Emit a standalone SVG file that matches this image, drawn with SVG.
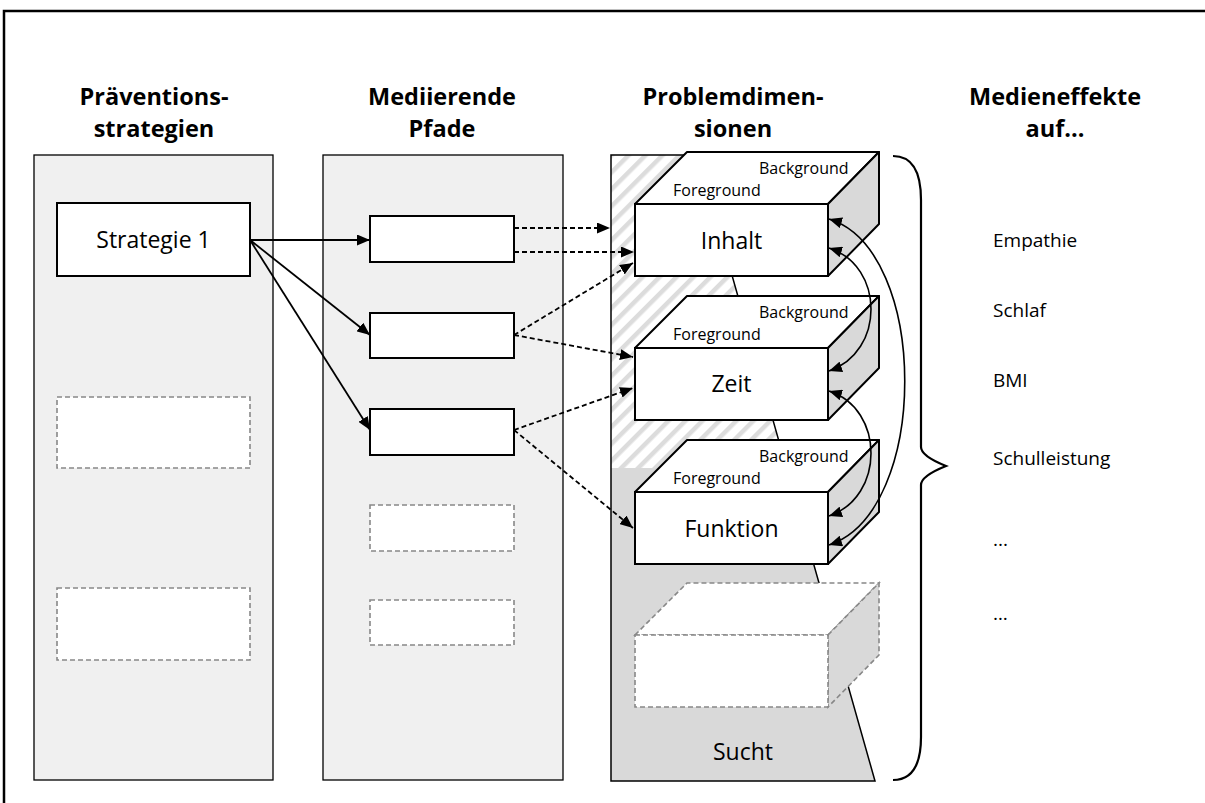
<svg xmlns="http://www.w3.org/2000/svg" width="1205" height="803" viewBox="0 0 1205 803">
<defs>
<style>
.hdr{font-family:"Open Sans",sans-serif;font-weight:700;font-size:23.5px;fill:#000;text-anchor:middle}
.lbl{font-family:"Open Sans",sans-serif;font-size:23px;fill:#000;text-anchor:middle}
.sm{font-family:"Open Sans",sans-serif;font-size:16px;fill:#000}
.eff{font-family:"Open Sans",sans-serif;font-size:19px;fill:#000}
.panel{fill:#f0f0f0;stroke:#000;stroke-width:1.3}
.box{fill:#fff;stroke:#000;stroke-width:2}
.dbox{fill:#fff;stroke:#888;stroke-width:1.6;stroke-dasharray:5 3}
.side{fill:#d9d9d9;stroke:#000;stroke-width:2;stroke-linejoin:round}
.top{fill:#fff;stroke:#000;stroke-width:2;stroke-linejoin:round}
.dside{fill:#d9d9d9;stroke:#888;stroke-width:1.6;stroke-dasharray:5 3}
.dtop{fill:#fff;stroke:#888;stroke-width:1.6;stroke-dasharray:5 3}
.sol{fill:none;stroke:#000;stroke-width:1.8;marker-end:url(#ah)}
.dash{fill:none;stroke:#000;stroke-width:1.8;stroke-dasharray:5 3;marker-end:url(#ah)}
.arc{fill:none;stroke:#000;stroke-width:1.6;marker-start:url(#ahs);marker-end:url(#ah)}
</style>
<marker id="ah" viewBox="0 0 10 10" refX="10" refY="5" markerWidth="13" markerHeight="11" markerUnits="userSpaceOnUse" orient="auto" preserveAspectRatio="none"><path d="M0,0 L10,5 L0,10 z" fill="#000"/></marker>
<marker id="ahs" viewBox="0 0 10 10" refX="10" refY="5" markerWidth="13" markerHeight="11" markerUnits="userSpaceOnUse" orient="auto-start-reverse" preserveAspectRatio="none"><path d="M0,0 L10,5 L0,10 z" fill="#000"/></marker>
<pattern id="hatch" width="12" height="12" patternUnits="userSpaceOnUse" patternTransform="rotate(45)"><rect width="12" height="12" fill="#fff"/><rect width="4.5" height="12" fill="#dcdcdc"/></pattern>
</defs>

<rect width="1205" height="803" fill="#fff"/>
<path d="M4,803 V11 H1205" fill="none" stroke="#000" stroke-width="2.5"/>

<g id="headers">
<text class="hdr" x="154" y="105">Präventions-</text>
<text class="hdr" x="154" y="137">strategien</text>
<text class="hdr" x="442" y="105">Mediierende</text>
<text class="hdr" x="442" y="137">Pfade</text>
<text class="hdr" x="733" y="105">Problemdimen-</text>
<text class="hdr" x="733" y="137">sionen</text>
<text class="hdr" x="1055" y="105">Medieneffekte</text>
<text class="hdr" x="1055" y="137">auf...</text>
</g>

<g id="panel-strategien">
<rect class="panel" x="34" y="155" width="239" height="625"/>
</g>
<g id="panel-pfade">
<rect class="panel" x="323" y="155" width="240" height="625"/>
</g>
<g id="panel-problem">
<polygon points="611,155 698,155 786.6,468 611,468" fill="url(#hatch)"/>
<polygon points="611,468 786.6,468 875,781 611,781" fill="#d9d9d9"/>
<path d="M611,155 L698,155 L875,781 L611,781 Z" fill="none" stroke="#000" stroke-width="1.5"/>
<text class="lbl" x="743" y="760">Sucht</text>
</g>

<g id="node-strategie1">
<rect class="box" x="57" y="203" width="193" height="73"/>
<text class="lbl" x="153.5" y="248">Strategie 1</text>
</g>
<g id="node-strategie2"><rect class="dbox" x="57" y="397" width="193" height="71"/></g>
<g id="node-strategie3"><rect class="dbox" x="57" y="588" width="193" height="72"/></g>

<g id="node-pfad1"><rect class="box" x="370" y="216" width="144" height="46"/></g>
<g id="node-pfad2"><rect class="box" x="370" y="313" width="144" height="45"/></g>
<g id="node-pfad3"><rect class="box" x="370" y="409" width="144" height="46"/></g>
<g id="node-pfad4"><rect class="dbox" x="370" y="505" width="144" height="46"/></g>
<g id="node-pfad5"><rect class="dbox" x="370" y="600" width="144" height="45"/></g>

<g id="node-inhalt" transform="translate(635,204)">
<polygon class="top" points="0,0 52,-52 244,-52 193,0"/>
<polygon class="side" points="193,0 244,-52 244,20 193,72"/>
<rect class="box" x="0" y="0" width="193" height="72"/>
<text class="sm" x="124" y="-30">Background</text>
<text class="sm" x="38" y="-8">Foreground</text>
<text class="lbl" x="96.5" y="45">Inhalt</text>
</g>
<g id="node-zeit" transform="translate(635,348)">
<polygon class="top" points="0,0 52,-52 244,-52 193,0"/>
<polygon class="side" points="193,0 244,-52 244,20 193,72"/>
<rect class="box" x="0" y="0" width="193" height="72"/>
<text class="sm" x="124" y="-30">Background</text>
<text class="sm" x="38" y="-8">Foreground</text>
<text class="lbl" x="96.5" y="44">Zeit</text>
</g>
<g id="node-funktion" transform="translate(635,492)">
<polygon class="top" points="0,0 52,-52 244,-52 193,0"/>
<polygon class="side" points="193,0 244,-52 244,20 193,72"/>
<rect class="box" x="0" y="0" width="193" height="72"/>
<text class="sm" x="124" y="-30">Background</text>
<text class="sm" x="38" y="-8">Foreground</text>
<text class="lbl" x="96.5" y="45">Funktion</text>
</g>
<g id="node-dim4" transform="translate(635,635)">
<polygon class="dtop" points="0,0 52,-52 244,-52 193,0"/>
<polygon class="dside" points="193,0 244,-52 244,20 193,72"/>
<rect class="dbox" x="0" y="0" width="193" height="72"/>
</g>

<g id="connectors">
<path class="sol" d="M250,240 L370,240"/>
<path class="sol" d="M250,240 L370,335"/>
<path class="sol" d="M250,240 L370,430"/>
<path class="dash" d="M514,228 L610,228"/>
<path class="dash" d="M514,252 L634,252"/>
<path class="dash" d="M514,335 L633,263"/>
<path class="dash" d="M514,335 L633,357"/>
<path class="dash" d="M514,430 L633,388"/>
<path class="dash" d="M514,430 L633,528"/>
<path class="arc" d="M829,219 C930,250 930,512 829,545"/>
<path class="arc" d="M829,248 C885,266 885,352 829,371"/>
<path class="arc" d="M829,391 C885,409 885,497 829,516"/>
</g>

<g id="brace">
<path d="M893,156 C912,156 921,172 921,200 L921,447 Q921,456 946,466 Q921,476 921,485 L921,737 C921,765 912,780 893,780" fill="none" stroke="#000" stroke-width="2.2"/>
</g>

<g id="effects">
<text class="eff" x="993" y="247">Empathie</text>
<text class="eff" x="993" y="317">Schlaf</text>
<text class="eff" x="993" y="387">BMI</text>
<text class="eff" x="993" y="465">Schulleistung</text>
<text class="eff" x="993" y="546">...</text>
<text class="eff" x="993" y="620">…</text>
</g>
</svg>
